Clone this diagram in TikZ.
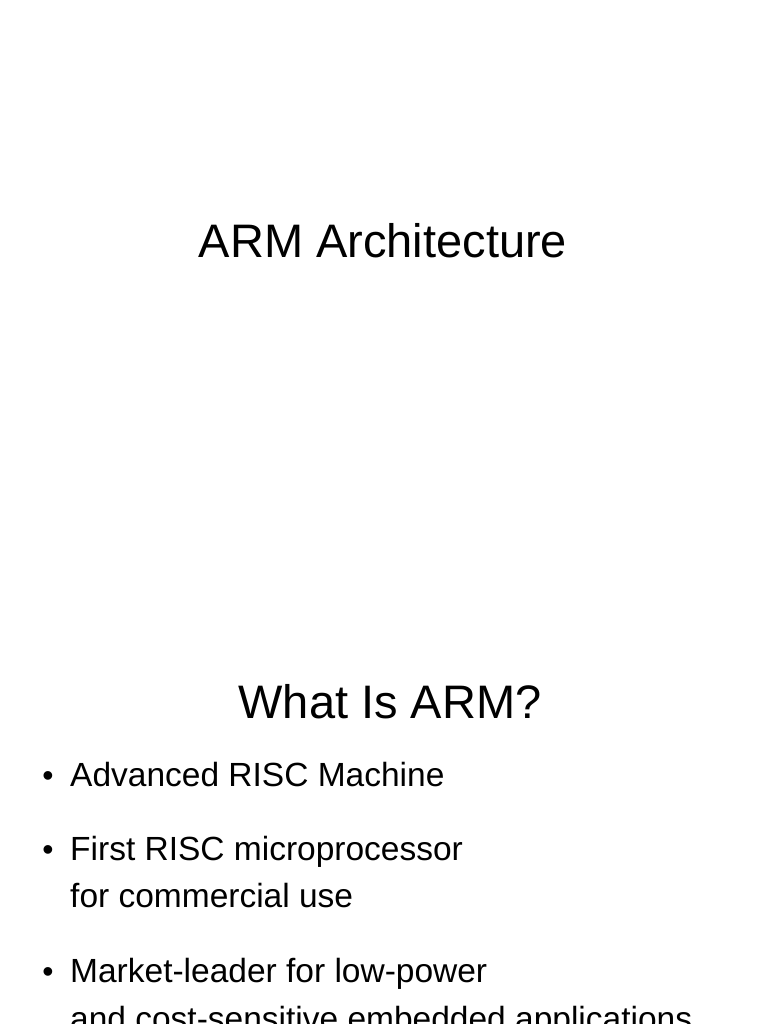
\documentclass[tikz,border=0pt]{standalone}
\usepackage{fontspec}
\setmainfont{Liberation Sans}
\begin{document}
\begin{tikzpicture}[x=1pt,y=-1pt,
  ttl/.style={anchor=base,inner sep=0pt,font=\fontsize{47}{56}\selectfont},
  txt/.style={anchor=base west,inner sep=0pt,font=\fontsize{33.5}{40}\selectfont},
  bul/.style={anchor=base,inner sep=0pt,font=\fontsize{32}{38}\selectfont}]
\useasboundingbox (0,0) rectangle (768,1024);
\clip (0,0) rectangle (768,1024);
\node[ttl] (t1) at (383,258) {ARM Architecture};
\node[ttl] (t2) at (390,718) {What Is ARM?};
\node[bul] (b1) at (48,786) {•};
\node[txt] (l1) at (70,786) {Advanced RISC Machine};
\node[bul] (b2) at (48,860) {•};
\node[txt] (l2) at (70,860) {First RISC microprocessor};
\node[txt] (l3) at (70,907) {for commercial use};
\node[bul] (b3) at (48,982) {•};
\node[txt] (l4) at (70,982) {Market-leader for low-power};
\node[txt] (l5) at (70,1030) {and cost-sensitive embedded applications};
\end{tikzpicture}
\end{document}
